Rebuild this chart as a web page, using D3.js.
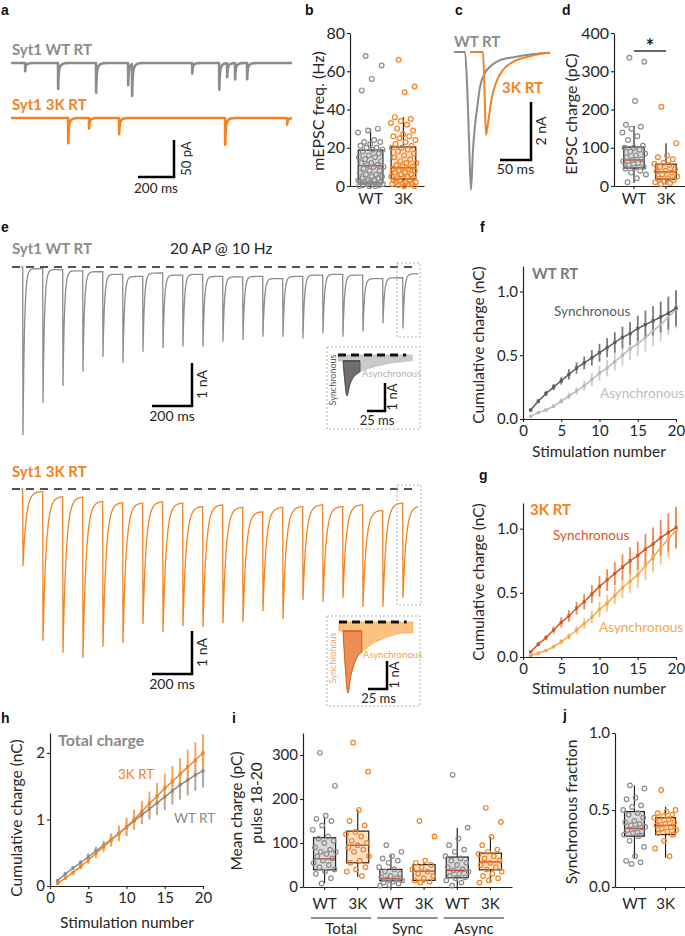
<!DOCTYPE html>
<html><head><meta charset="utf-8">
<script src="https://cdn.jsdelivr.net/npm/d3@7"></script>
<style>body{margin:0;background:#fff}</style>
</head><body>
<svg id="fig" width="685" height="936"></svg>
<script>
// ================= DATA =================
// a: miniature events [time ms, amplitude pA]
const aWTEvents = [[78,11],[261,35],[472,40],[650,30],[672,43],[1006,14],[1156,36],[1200,19],[1244,22],[1311,22]];
const a3KEvents = [[317,34],[433,14],[600,22],[1189,36],[1533,9]];
// b: mEPSC frequency (Hz)
const bCategories = ["WT","3K"];
const bWT = [68,63,56,50,30,29,28,24,23,23,22,21,20,20,19,19,18,17,16,15,15,14,13,12,12,11,11,10,10,9,8,8,7,6,6,5,5,4,4,3,3,3,2,2,2,2,1,1,1,1,0.5,0.5,0,0,0];
const b3K = [66,52,49,36,35,34,33,32,30,29,27,26,26,25,24,23,22,21,20,20,19,18,17,16,15,14,13,12,12,11,10,10,9,9,8,8,7,7,6,6,5,5,4,4,4,3,3,3,2,2,2,1,1,1,1,0.5,0,0];
const bBoxWT = [1.6,10.6,18.8,0,30];   // q1, median, q3, low, high
const bBox3K = [3.7,9.5,20.4,0,36];
// c: EPSC traces [time ms, current nA (inward positive down)]
const cWT = [[0,0],[17.7,0],[21,1.07],[24.2,3.03],[27.4,4.76],[30.6,3.38],[33.9,2.52],[37.1,1.97],[41.9,1.21],[50,0.72],[61.3,0.45],[74.2,0.28],[87.1,0.21],[106.5,0.14],[130.6,0.07],[154.8,0.03]];
const c3K = [[25.8,0],[46.8,0],[49.2,1.31],[51.6,2.86],[54.8,2.45],[61.3,1.55],[69.4,0.97],[79,0.62],[95.2,0.34],[117.7,0.17],[138.7,0.07],[154.8,0.03]];
// d: EPSC charge (pC)
const dWT = [335,325,222,160,155,150,140,130,120,105,100,100,95,90,85,80,75,70,68,65,60,55,50,48,45,40,35,30,20,10];
const d3K = [207,112,80,75,70,60,58,55,50,45,40,38,35,30,25,20,18,15,12,10,8,5];
const dBoxWT = [47,68,102,8,157];
const dBox3K = [18,37,57,3,112];
// e: 20 AP @ 10 Hz, peak amplitudes and pre-pulse levels (nA)
const eWTPeak = [3.91,3.17,2.77,2.43,2.09,2.24,1.97,1.89,1.85,1.85,1.74,1.70,1.62,1.62,1.66,1.54,1.62,1.50,1.31,1.43];
const eWTPre  = [0,0.04,0.06,0.09,0.11,0.17,0.22,0.14,0.19,0.17,0.22,0.23,0.22,0.27,0.22,0.19,0.17,0.19,0.27,0.25];
const eWTEnd = 0.16;
const e3KPeak = [1.79,3.53,3.81,3.93,3.67,3.58,3.14,3.33,3.19,3.21,3.12,3.09,2.84,3.02,2.58,2.63,2.53,2.74,2.74,2.53];
const e3KPre  = [0,0.06,0.18,0.19,0.29,0.32,0.33,0.30,0.33,0.41,0.37,0.43,0.53,0.43,0.41,0.37,0.41,0.37,0.50,0.33];
const e3KEnd = 0.41;
// e insets: last response [time ms, nA], sync window [start,end]
const eWTInset = [[0,0.21],[7,0.21],[9,0.8],[12.5,1.46],[16,1.1],[20,0.85],[25,0.7],[30.5,0.6],[40,0.5],[50,0.42],[60,0.36],[70,0.3],[80,0.26],[90,0.24],[103,0.2]];
const eWTSync = [7,30.5];
const e3KInset = [[0,0.32],[5.3,0.32],[8,1.5],[11.8,2.54],[15,2.0],[20,1.5],[25,1.2],[30,1.07],[38,0.9],[45,0.75],[55,0.63],[63,0.54],[72,0.46],[80,0.4],[90,0.39],[97,0.38]];
const e3KSync = [5.3,30];
// f, g, h: cumulative charge (nC) for stimulation 1..20
const stimNumbers = d3.range(1,21);
const fSync  = [0.07,0.14,0.20,0.25,0.30,0.35,0.40,0.44,0.48,0.52,0.56,0.60,0.64,0.67,0.71,0.74,0.77,0.80,0.83,0.87];
const fSyncErr = [0.01,0.015,0.02,0.025,0.03,0.04,0.045,0.05,0.06,0.07,0.075,0.08,0.085,0.09,0.1,0.11,0.115,0.12,0.13,0.14];
const fAsync = [0.02,0.05,0.07,0.10,0.14,0.18,0.22,0.26,0.31,0.36,0.40,0.45,0.50,0.55,0.59,0.64,0.69,0.74,0.80,0.86];
const fAsyncErr = [0.005,0.01,0.012,0.015,0.02,0.025,0.03,0.04,0.05,0.06,0.065,0.07,0.08,0.085,0.1,0.11,0.12,0.13,0.14,0.15];
const gSync  = [0.04,0.10,0.15,0.21,0.27,0.32,0.38,0.43,0.49,0.55,0.60,0.65,0.70,0.75,0.79,0.84,0.88,0.93,0.97,1.01];
const gSyncErr = [0.01,0.015,0.02,0.03,0.04,0.045,0.05,0.06,0.07,0.08,0.085,0.09,0.1,0.105,0.11,0.12,0.13,0.14,0.15,0.16];
const gAsync = [0.01,0.03,0.05,0.08,0.12,0.16,0.21,0.26,0.31,0.37,0.42,0.48,0.54,0.59,0.64,0.71,0.78,0.85,0.92,0.99];
const gAsyncErr = [0.005,0.01,0.012,0.015,0.02,0.025,0.03,0.04,0.05,0.06,0.065,0.07,0.08,0.09,0.1,0.11,0.12,0.13,0.14,0.15];
const hWT = [0.08,0.18,0.27,0.35,0.44,0.53,0.61,0.70,0.79,0.88,0.98,1.07,1.16,1.25,1.34,1.43,1.52,1.59,1.67,1.73];
const hWTErr = [0.01,0.02,0.03,0.04,0.05,0.06,0.07,0.08,0.1,0.12,0.13,0.14,0.16,0.18,0.2,0.21,0.22,0.23,0.24,0.25];
const h3K = [0.04,0.12,0.20,0.29,0.39,0.49,0.59,0.69,0.79,0.89,1.00,1.12,1.24,1.35,1.47,1.57,1.68,1.79,1.89,2.00];
const h3KErr = [0.01,0.02,0.03,0.04,0.06,0.07,0.08,0.1,0.12,0.14,0.15,0.16,0.18,0.2,0.22,0.23,0.24,0.26,0.27,0.28];
// i: mean charge pulse 18-20 (pC)
const iGroups = ["Total","Sync","Async"];
const iTotalWT = [305,230,162,155,150,140,130,115,110,105,100,90,85,80,80,75,70,65,60,55,50,45,40,35,30,20,8];
const iTotal3K = [328,262,175,150,140,125,120,115,105,100,95,90,85,80,70,60,55,45,40,35,25];
const iSyncWT = [95,80,70,65,60,55,45,40,35,30,25,22,20,18,15,12,10,8,5,3];
const iSync3K = [150,115,60,55,50,45,40,35,30,25,20,15,12,10];
const iAsyncWT = [255,135,110,95,85,80,70,65,60,55,50,45,40,38,35,30,25,22,20,15,10,3];
const iAsync3K = [180,148,114,95,85,80,75,70,65,60,55,50,45,40,35,30,25,20,15,10];
const iBoxes = [[39,64,112,9,160],[55,95,127,23,175],[14,19,40,3,74],[15,36,51,10,57],[21,38,68,0,134],[39,57,77,9,114]];
// j: synchronous fraction
const jWT = [0.66,0.64,0.58,0.57,0.53,0.52,0.5,0.48,0.47,0.45,0.43,0.42,0.41,0.4,0.39,0.38,0.37,0.36,0.35,0.34,0.33,0.3,0.26,0.2,0.17,0.16,0.15];
const j3K = [0.63,0.5,0.49,0.48,0.47,0.46,0.45,0.44,0.43,0.42,0.41,0.4,0.39,0.38,0.37,0.36,0.35,0.34,0.3,0.25,0.2];
const jBoxWT = [0.33,0.38,0.49,0.19,0.66];
const jBox3K = [0.34,0.40,0.45,0.19,0.52];

// ================= DRAWING =================
const FONT = "Lato, 'Open Sans', sans-serif";
const TXT = "#262626", GRAY = "#8c8c8c", ORANGE = "#f58220", RED = "#e5332a";
const BOXWT = "#dadada", BOX3K = "#fde3cb";
const svg = d3.select("#fig");
svg.append("rect").attr("width",685).attr("height",936).attr("fill","#fff");

function txt(x,y,s,o={}) {
  const t = svg.append("text").attr("x",x).attr("y",y).text(s)
    .attr("font-size",o.size||15).attr("fill",o.fill||TXT)
    .attr("font-weight",o.weight||"normal").attr("text-anchor",o.anchor||"start")
    .attr("font-family",o.family||FONT);
  if (o.rotate) t.attr("transform",`rotate(${o.rotate},${x},${y})`);
  return t;
}
function styleAxis(g,size) {
  g.attr("font-family",FONT);
  g.selectAll("text").attr("font-size",size).attr("fill",TXT).attr("font-family",FONT);
  g.selectAll(".tick line").attr("stroke","#222").attr("stroke-width",1.1);
  g.select(".domain").attr("stroke","#222").attr("stroke-width",1.2);
}
function yAxis(x,scale,ticks,fmt,size) {
  const g = svg.append("g").attr("transform",`translate(${x},0)`)
    .call(d3.axisLeft(scale).tickValues(ticks).tickFormat(fmt).tickSize(3).tickSizeOuter(0).tickPadding(2));
  styleAxis(g,size); return g;
}
function xAxis(y,scale,ticks,fmt,size,pad) {
  const ax = d3.axisBottom(scale).tickSize(3).tickSizeOuter(0).tickPadding(pad||3);
  if (ticks) ax.tickValues(ticks);
  if (fmt) ax.tickFormat(fmt);
  const g = svg.append("g").attr("transform",`translate(0,${y})`).call(ax);
  styleAxis(g,size); return g;
}
function line(x1,y1,x2,y2,o={}) {
  return svg.append("line").attr("x1",x1).attr("y1",y1).attr("x2",x2).attr("y2",y2)
    .attr("stroke",o.stroke||"#000").attr("stroke-width",o.w||2.5)
    .attr("stroke-dasharray",o.dash||null);
}
function box(cx,w,yS,st,fill) {
  const [q1,med,q3,lo,hi] = st;
  line(cx,yS(lo),cx,yS(hi),{stroke:"#222",w:1.2});
  svg.append("rect").attr("x",cx-w/2).attr("width",w).attr("y",yS(q3)).attr("height",yS(q1)-yS(q3))
    .attr("fill",fill).attr("stroke","#222").attr("stroke-width",1.2);
  line(cx-w/2+0.6,yS(med),cx+w/2-0.6,yS(med),{stroke:RED,w:1.4});
}
function pts(cx,w,yS,vals,color,r) {
  svg.append("g").selectAll("circle").data(vals).join("circle")
    .attr("cx",(d,k)=>cx + (((k*0.618034+0.31)%1)-0.5)*w)
    .attr("cy",d=>yS(d)).attr("r",r||2.4)
    .attr("fill","none").attr("stroke",color).attr("stroke-width",1.2);
}

// panel letters
[["a",1,15],["b",305,15],["c",455,15],["d",562,15],["e",1,232],["f",480,232],["g",479,480],["h",1,723],["i",232,723],["j",563,720]]
  .forEach(([l,x,y])=>txt(x,y,l,{size:14,weight:"bold",family:"'Liberation Sans', Arial, sans-serif",fill:"#111"}));

// ---------- a ----------
const xA = d3.scaleLinear().domain([0,1561]).range([11,292]);
function miniTrace(events) {
  return d3.range(0,1562,1).map(t=>{
    let I = 0;
    events.forEach(([te,a])=>{
      const dt = t-te;
      if (dt>=0) I += dt<1 ? a*dt : a*(0.65*Math.exp(-(dt-1)/2.5)+0.35*Math.exp(-(dt-1)/11));
    });
    return [t,I];
  });
}
const yAWT = d3.scaleLinear().domain([0,50]).range([63,100]);
const yA3K = d3.scaleLinear().domain([0,50]).range([118,155]);
svg.append("path").attr("d",d3.line().x(d=>xA(d[0])).y(d=>yAWT(d[1]))(miniTrace(aWTEvents)))
  .attr("fill","none").attr("stroke",GRAY).attr("stroke-width",2.6).attr("stroke-linejoin","round");
svg.append("path").attr("d",d3.line().x(d=>xA(d[0])).y(d=>yA3K(d[1]))(miniTrace(a3KEvents)))
  .attr("fill","none").attr("stroke",ORANGE).attr("stroke-width",2.6).attr("stroke-linejoin","round");
txt(12,55,"Syt1 WT RT",{size:15,weight:"bold",fill:GRAY});
txt(12,110,"Syt1 3K RT",{size:15,weight:"bold",fill:ORANGE});
{ const x0=174,y0=177, lx=xA(200)-xA(0), ly=yAWT(50)-yAWT(0);
  line(x0-lx,y0,x0+1.2,y0); line(x0,y0,x0,y0-ly);
  txt(191,y0-ly/2,"50 pA",{size:13,anchor:"middle",rotate:-90});
  txt(x0-lx/2,193,"200 ms",{size:13.5,anchor:"middle"}); }

// ---------- b ----------
const yB = d3.scaleLinear().domain([0,80]).range([186,33]);
const xB = d3.scaleBand().domain(bCategories).range([350,424]).padding(0.25);
yAxis(350,yB,[0,20,40,60,80],d3.format("d"),16);
xAxis(186,xB,null,null,15,4);
box(xB("WT")+xB.bandwidth()/2,xB.bandwidth(),yB,bBoxWT,BOXWT);
box(xB("3K")+xB.bandwidth()/2,xB.bandwidth(),yB,bBox3K,BOX3K);
pts(xB("WT")+xB.bandwidth()/2,xB.bandwidth()*1.05,yB,bWT,GRAY);
pts(xB("3K")+xB.bandwidth()/2,xB.bandwidth()*1.05,yB,b3K,ORANGE);
txt(324,111,"mEPSC freq. (Hz)",{size:16,anchor:"middle",rotate:-90});

// ---------- c ----------
const xC = d3.scaleLinear().domain([0,155]).range([454,454+155*0.62]);
const yC = d3.scaleLinear().domain([0,5]).range([52,197]);
const lineC = d3.line().x(d=>xC(d[0])).y(d=>yC(d[1])).curve(d3.curveMonotoneX);
svg.append("path").attr("d",lineC(cWT)).attr("fill","none").attr("stroke",GRAY).attr("stroke-width",2);
svg.append("path").attr("d",lineC(c3K)).attr("fill","none").attr("stroke",ORANGE).attr("stroke-width",2);
txt(454,47,"WT RT",{size:15,weight:"bold",fill:GRAY});
txt(502,93,"3K RT",{size:15,weight:"bold",fill:ORANGE});
{ const x0=531,y0=160, lx=xC(50)-xC(0), ly=yC(2)-yC(0);
  line(x0-lx,y0,x0+1.2,y0); line(x0,y0,x0,y0-ly);
  txt(546,y0-ly/2,"2 nA",{size:14,anchor:"middle",rotate:-90});
  txt(x0-lx/2,174,"50 ms",{size:14,anchor:"middle"}); }

// ---------- d ----------
const yD = d3.scaleLinear().domain([0,400]).range([186,33]);
const xD = d3.scaleBand().domain(bCategories).range([614,686]).padding(0.25);
yAxis(614,yD,[0,100,200,300,400],d3.format("d"),16);
xAxis(186,xD,null,null,15,4);
box(xD("WT")+xD.bandwidth()/2,xD.bandwidth()*0.85,yD,dBoxWT,BOXWT);
box(xD("3K")+xD.bandwidth()/2,xD.bandwidth()*0.85,yD,dBox3K,BOX3K);
pts(xD("WT")+xD.bandwidth()/2,xD.bandwidth(),yD,dWT,GRAY);
pts(xD("3K")+xD.bandwidth()/2,xD.bandwidth(),yD,d3K,ORANGE);
txt(577,114,"EPSC charge (pC)",{size:16,anchor:"middle",rotate:-90});
line(634,51,666,51,{w:1.2});
txt(650,54,"*",{size:20,weight:"bold",anchor:"middle"});

// ---------- e ----------
const xE = d3.scaleLinear().domain([0,1900]).range([22.7,402.7]);
function buildTrain(peaks,pre,endLevel,tau) {
  const p = [];
  for (let t=-8;t<0;t+=2) p.push([t,0]);
  const N = peaks.length;
  for (let i=0;i<N;i++) {
    const t0=i*100, target = i<N-1 ? pre[i+1] : endLevel, segEnd = i<N-1 ? 100 : 78;
    p.push([t0,pre[i]]); p.push([t0+1.5,peaks[i]]);
    const fEnd = Math.exp(-(segEnd-1.5)/tau);
    for (let dt=2.5; dt<segEnd; dt+=1) {
      const f = (Math.exp(-(dt-1.5)/tau)-fEnd)/(1-fEnd);
      p.push([t0+dt, target+(peaks[i]-target)*f]);
    }
  }
  return p;
}
const yEWT = d3.scaleLinear().domain([0,4]).range([267,267+172]);
const yE3K = d3.scaleLinear().domain([0,4]).range([489,489+172]);
line(12,267,415,267,{w:1.7,dash:"8,6",stroke:"#1a1a1a"});
line(12,489,415,489,{w:1.7,dash:"8,6",stroke:"#1a1a1a"});
svg.append("path").attr("d",d3.line().x(d=>xE(d[0])).y(d=>yEWT(d[1]))(buildTrain(eWTPeak,eWTPre,eWTEnd,7.5)))
  .attr("fill","none").attr("stroke",GRAY).attr("stroke-width",1.3);
svg.append("path").attr("d",d3.line().x(d=>xE(d[0])).y(d=>yE3K(d[1]))(buildTrain(e3KPeak,e3KPre,e3KEnd,16)))
  .attr("fill","none").attr("stroke",ORANGE).attr("stroke-width",1.3);
txt(12,254,"Syt1 WT RT",{size:15,weight:"bold",fill:GRAY});
txt(170,254,"20 AP @ 10 Hz",{size:15.5});
txt(12,477,"Syt1 3K RT",{size:15,weight:"bold",fill:ORANGE});
function dotBox(x1,y1,x2,y2){ svg.append("rect").attr("x",x1).attr("y",y1).attr("width",x2-x1).attr("height",y2-y1)
  .attr("fill","none").attr("stroke","#b0b0b0").attr("stroke-width",1).attr("stroke-dasharray","2,2"); }
dotBox(397,263,420,337); dotBox(327,347,420,429);
dotBox(397,485,421,605); dotBox(327,616,420,706);
function eScale(x0,y0,yS){
  const lx=xE(200)-xE(0), ly=yS(1)-yS(0);
  line(x0-lx,y0,x0+1.2,y0); line(x0,y0,x0,y0-ly);
  txt(207,y0-ly/2,"1 nA",{size:14,anchor:"middle",rotate:-90});
  txt(x0-lx/2,y0+15,"200 ms",{size:14,anchor:"middle"});
}
eScale(192,406,yEWT); eScale(192,674,yE3K);
function inset(data,sync,x0,y0,msPx,cols,lbl) {
  const xs = d3.scaleLinear().domain([0,25]).range([x0,x0+msPx]);
  const ys = d3.scaleLinear().domain([0,1]).range([y0,y0+28]);
  const tEnd = data[data.length-1][0];
  const area = d3.area().x(d=>xs(d[0])).y0(ys(0)).y1(d=>ys(d[1])).curve(d3.curveMonotoneX);
  svg.append("path").attr("d",area(data)).attr("fill",cols.async).attr("stroke",cols.asyncStroke).attr("stroke-width",0.8);
  const inWin = data.filter(d=>d[0]>=sync[0]&&d[0]<=sync[1]);
  const lvl = data[0][1];
  const sa = d3.area().x(d=>xs(d[0])).y0(ys(lvl)).y1(d=>ys(d[1])).curve(d3.curveMonotoneX);
  svg.append("path").attr("d",sa(inWin)).attr("fill",cols.sync).attr("stroke",cols.syncStroke).attr("stroke-width",1);
  line(xs(sync[0]),ys(lvl),xs(sync[1]),ys(lvl),{stroke:cols.syncStroke,w:1.3});
  line(x0,y0,xs(tEnd)-6,y0,{w:2.8,dash:"8,5",stroke:"#111"});
  const sx = lbl.sx, sy = lbl.sy;
  const lx = xs(25)-xs(0), ly = ys(1)-ys(0);
  line(sx-lx,sy,sx+1.2,sy); line(sx,sy,sx,sy-ly);
  txt(sx+12,sy-ly/2,"1 nA",{size:13,anchor:"middle",rotate:-90});
  txt(sx-lx/2+1,sy+14,"25 ms",{size:13,anchor:"middle"});
  txt(lbl.synx,lbl.syny,"Synchronous",{size:9,anchor:"middle",rotate:-90,fill:cols.syncText});
  txt(lbl.asx,lbl.asy,"Asynchronous",{size:9.5,fill:cols.asyncText});
}
inset(eWTInset,eWTSync,338,355,18,{async:"#cacaca",asyncStroke:"#bdbdbd",sync:"#6f6f6f",syncStroke:"#4a4a4a",syncText:"#555",asyncText:"#b3b3b3"},
  {sx:385,sy:411,synx:336,syny:380,asx:362,asy:377});
inset(e3KInset,e3KSync,339,622,19,{async:"#fdc27f",asyncStroke:"#f6a445",sync:"#ed8e55",syncStroke:"#d9601a",syncText:"#f3a474",asyncText:"#f7a040"},
  {sx:387,sy:689,synx:336,syny:658,asx:363,asy:658});

// ---------- f, g, h ----------
function cumPanel(yTop,y0px,yMax,yTicks,fmt,series) {
  const x = d3.scaleLinear().domain([0,20]).range(series.xr);
  const y = d3.scaleLinear().domain([0,yMax]).range([y0px,yTop]);
  series.list.forEach(s=>{
    svg.append("g").selectAll("line").data(stimNumbers).join("line")
      .attr("x1",d=>x(d)).attr("x2",d=>x(d))
      .attr("y1",(d,k)=>y(s.v[k]-s.e[k])).attr("y2",(d,k)=>y(s.v[k]+s.e[k]))
      .attr("stroke",s.ec).attr("stroke-width",1.8);
  });
  series.list.forEach(s=>{
    svg.append("path").attr("d",d3.line().x((d,k)=>x(stimNumbers[k])).y(d=>y(d))(s.v))
      .attr("fill","none").attr("stroke",s.c).attr("stroke-width",1.5);
    svg.append("g").selectAll("rect").data(s.v).join("rect")
      .attr("x",(d,k)=>x(stimNumbers[k])-1.6).attr("y",d=>y(d)-1.6).attr("width",3.2).attr("height",3.2).attr("fill",s.c);
  });
  yAxis(series.xr[0],y,yTicks,fmt,15);
  xAxis(y0px,x,[0,5,10,15,20],d3.format("d"),15,3);
  return {x,y};
}
// f
cumPanel(266,419,1.2,[0,0.5,1.0],d3.format(".1f"),{xr:[523,676],list:[
  {v:fAsync,e:fAsyncErr,c:"#b8b8b8",ec:"#cdcdcd"},{v:fSync,e:fSyncErr,c:"#5b5b5b",ec:"#7b7b7b"}]});
txt(532,279,"WT RT",{size:15,weight:"bold",fill:"#7a7a7a"});
txt(554,316,"Synchronous",{size:13.5,fill:"#5b5b5b"});
txt(600,398,"Asynchronous",{size:13.5,fill:"#bdbdbd"});
txt(484,345,"Cumulative charge (nC)",{size:15.5,anchor:"middle",rotate:-90});
txt(599,457,"Stimulation number",{size:15.5,anchor:"middle"});
// g
cumPanel(503,657,1.2,[0,0.5,1.0],d3.format(".1f"),{xr:[523,676],list:[
  {v:gAsync,e:gAsyncErr,c:"#f9a54a",ec:"#fbc080"},{v:gSync,e:gSyncErr,c:"#d9561e",ec:"#e88a55"}]});
txt(530,515,"3K RT",{size:15,weight:"bold",fill:ORANGE});
txt(553,540,"Synchronous",{size:13.5,fill:"#d9561e"});
txt(599,632,"Asynchronous",{size:13.5,fill:"#f9a54a"});
txt(484,582,"Cumulative charge (nC)",{size:15.5,anchor:"middle",rotate:-90});
txt(599,694,"Stimulation number",{size:15.5,anchor:"middle"});
// h
cumPanel(733,886,2.3,[0,1,2],d3.format("d"),{xr:[50,203],list:[
  {v:hWT,e:hWTErr,c:"#8a8a8a",ec:"#a0a0a0"},{v:h3K,e:h3KErr,c:ORANGE,ec:"#f7a055"}]});
txt(58,746,"Total charge",{size:16,weight:"bold",fill:"#8a8a8a"});
txt(118,779,"3K RT",{size:13.5,fill:ORANGE});
txt(174,823,"WT RT",{size:13.5,fill:"#8a8a8a"});
txt(22,818,"Cumulative charge (nC)",{size:15.5,anchor:"middle",rotate:-90});
txt(127,928,"Stimulation number",{size:15.5,anchor:"middle"});

// ---------- i ----------
const iKeys = [];
iGroups.forEach(g=>bCategories.forEach(c=>iKeys.push(g+"-"+c)));
const yI = d3.scaleLinear().domain([0,350]).range([887,733]);
const xI = d3.scaleBand().domain(iKeys).range([303,512]).padding(0.3);
yAxis(303,yI,[0,100,200,300],d3.format("d"),15);
xAxis(887,xI,null,d=>d.split("-")[1],15,8);
const iPts = [iTotalWT,iTotal3K,iSyncWT,iSync3K,iAsyncWT,iAsync3K];
iKeys.forEach((k,n)=>{
  const cx = xI(k)+xI.bandwidth()/2, wt = n%2===0;
  box(cx,xI.bandwidth()*0.95,yI,iBoxes[n],wt?BOXWT:BOX3K);
  pts(cx,xI.bandwidth()*1.05,yI,iPts[n],wt?GRAY:ORANGE,2.3);
});
iGroups.forEach((g,n)=>{
  const a = xI(g+"-WT"), b = xI(g+"-3K")+xI.bandwidth();
  line(a-2,918,b+2,918,{w:1.1,stroke:"#222"});
  txt((a+b)/2,934,g,{size:15,anchor:"middle"});
});
txt(242,811,"Mean charge (pC)",{size:15.5,anchor:"middle",rotate:-90});
txt(262,803,"pulse 18-20",{size:15.5,anchor:"middle",rotate:-90});

// ---------- j ----------
const yJ = d3.scaleLinear().domain([0,1]).range([887,733]);
const xJ = d3.scaleBand().domain(bCategories).range([615,685]).padding(0.25);
yAxis(615,yJ,[0,0.5,1.0],d3.format(".1f"),15);
xAxis(887,xJ,null,null,15,8);
box(xJ("WT")+xJ.bandwidth()/2,xJ.bandwidth()*0.85,yJ,jBoxWT,BOXWT);
box(xJ("3K")+xJ.bandwidth()/2,xJ.bandwidth()*0.85,yJ,jBox3K,BOX3K);
pts(xJ("WT")+xJ.bandwidth()/2,xJ.bandwidth(),yJ,jWT,GRAY,2.3);
pts(xJ("3K")+xJ.bandwidth()/2,xJ.bandwidth(),yJ,j3K,ORANGE,2.3);
txt(577,812,"Synchronous fraction",{size:15.5,anchor:"middle",rotate:-90});
</script>
</body></html>
